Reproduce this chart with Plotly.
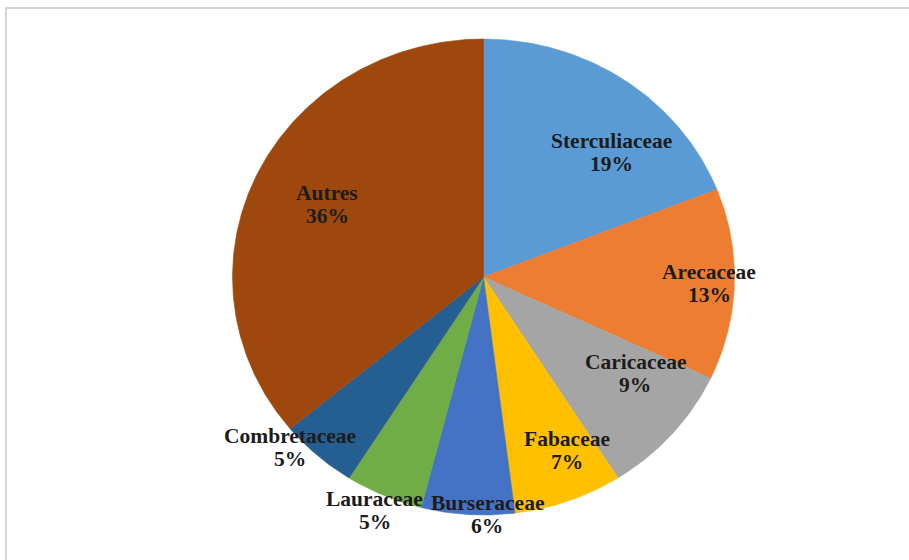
import numpy as np
import plotly.graph_objects as go

# Plant families and their share of the inventory (%)
families = ["Sterculiaceae", "Arecaceae", "Caricaceae", "Fabaceae",
            "Burseraceae", "Lauraceae", "Combretaceae", "Autres"]
shares = [19, 13, 9, 7, 6, 5, 5, 36]
colors = ["#5B9BD5", "#ED7D31", "#A5A5A5", "#FFC000",
          "#4472C4", "#70AD47", "#255E91", "#9E480E"]

# Label block centres (pixel coordinates of the canvas)
label_pos = [(611, 152), (709, 283.5), (635, 373), (567, 450),
             (487, 514), (374.5, 510), (290, 447.5), (327, 204.5)]

W, H = 909, 560
cx, cy = 483.5, 277.0      # pie centre
rx, ry = 251.0, 238.0      # horizontal / vertical radii

fig = go.Figure()

total = float(sum(shares))
start = 0.0
for name, val, col in zip(families, shares, colors):
    frac = val / total
    t0, t1 = start * 2 * np.pi, (start + frac) * 2 * np.pi
    n = max(int(frac * 720), 8)
    th = np.linspace(t0, t1, n)
    xs = np.concatenate([[cx], cx + rx * np.sin(th), [cx]])
    ys = np.concatenate([[cy], cy - ry * np.cos(th), [cy]])
    fig.add_trace(go.Scatter(
        x=xs, y=ys, mode="lines", fill="toself", fillcolor=col,
        line=dict(width=0.6, color=col), name=name,
        hoverinfo="text", text=f"{name}: {val}%", showlegend=False))
    start += frac

font = dict(family="Liberation Serif, Times New Roman, serif",
            size=21.5, color="#1c1c1c")
for name, val, (lx, ly) in zip(families, shares, label_pos):
    fig.add_annotation(x=lx, y=ly - 11.5, text=f"<b>{name}</b>",
                       showarrow=False, font=font,
                       xanchor="center", yanchor="middle")
    fig.add_annotation(x=lx, y=ly + 11.5, text=f"<b>{val}%</b>",
                       showarrow=False, font=font,
                       xanchor="center", yanchor="middle")

# Light grey frame around the chart area
fig.add_shape(type="rect", x0=6, y0=8, x1=W + 20, y1=H + 20,
              line=dict(color="#D4D4D4", width=2), layer="above")

fig.update_layout(
    width=W, height=H,
    margin=dict(l=0, r=0, t=0, b=0),
    paper_bgcolor="white", plot_bgcolor="white",
    xaxis=dict(range=[0, W], visible=False, fixedrange=True),
    yaxis=dict(range=[H, 0], visible=False, fixedrange=True),
    showlegend=False,
)

fig.write_html("out.html")
